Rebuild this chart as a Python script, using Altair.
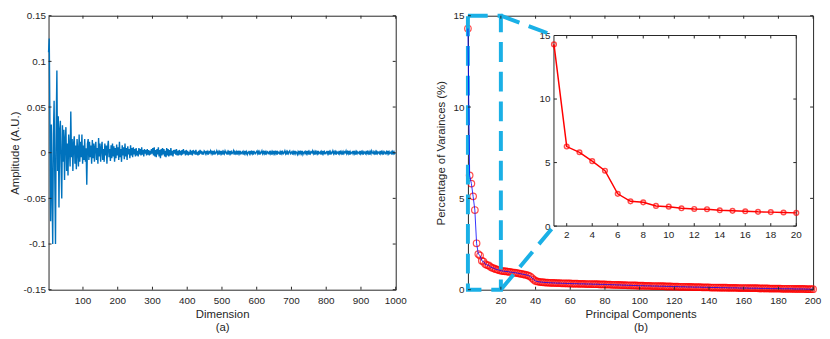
import altair as alt
import pandas as pd

# ---------------- data ----------------
# (a) signal: amplitude in thousandths of A.U., one reading every 2nd dimension
SIGNAL_EARLY = [110, 125, 30, -75, 31, -40, -100, 20, 57, -30, -100, 30, 90, -20, 40, -60, 25, 35, -15, -50,
                30, -10, 25, -30, 15, 28, -20, 10, -25, 20, 5, -15, 45, -5, 15, -20, 10, 18, -12, 8,
                -18, 15, 2, -15, 20, -10, 12, -5, 20, -12, 8, -8, 15, -10, 5, -35, 10, 15, -8, 12,
                -5, 8, -12, 14, -6, 10, -10, 6, 12, -8, 5, -12, 16, -4, 10, -10, 5, 12, -8, 4,
                -10, 10, -3, 8, -12, 6, 13, -5, 4, -9, 8, -6, 10, -4, 7, -10, 5, -6, 9, -3,
                6, -8, 12, -5, 4, -10, 8, -3, 6, -7, 10, -4, 5, -8, 7, -2, 4, -6, 8, -3,
                5, -5, 6, -2, 4, -4, 5, -3, 2, -4, 5, -2, 4, -3, 6, -2, 3, -4, 4, -1,
                3, -3, 4, -2, 3, -3, 2, -2, 4, -1]
SIGNAL_MID = [5, -3, 6, -4, 3, -5, 4, -2, 6, -4, 3, -6, 4, -3, 5, -2, 4, -4, 2, -5,
              5, -3, 4, -4, 3, -3, 5, -3, 2, -4, 3, -1, 3, -2, 4, -3, 2, -3, 3, -2,
              2, -3, 3, -2, 4, -1, 2, -3, 3, -2, 2, -3, 1, -2, 3, -2, 2, -3, 3, -1,
              2, -2, 3, -2, 1, -3, 2, -2, 3, -1, 2, -2, 1, -2, 2]
SIGNAL_LATE = [1, -1, 2, -1, 1, -2, 1, 0, 2, -1, 1, -1, 2, -2, 1, -1, 0, 2, -1, 1, -2, 1, -1, 2, -1,
               1, -2, 1, -1, 2, 0, -1, 1, -2, 1, -1, 2, -1, 1, -1, 0, 2, -2, 1, -1, 1, -2, 2, -1, 1,
               -1, 2, -1, 0, 1, -2, 1, -1, 2, -1, 1, -2, 0, 1, -1, 2, -1, 1, -1, 2, -2, 1, 0, -1, 1,
               2, -1, 1, -2, 1, -1, 0, 2, -1, 1, -1, 2, -2, 1, -1, 1, 0, -1, 2, -1, 1, -2, 1, -1, 2,
               -1, 1, -1, 2, -2, 1, 0, -1, 1, -2, 2, -1, 1, -1, 0, 2, -1, 1, -2, 1, -1, 1, 2, -1, 0,
               1, -2, 1, -1, 2, -1, 1, 0, -2, 1, -1, 2, -1, 1, -1, 2, -2, 0, 1, -1, 1, -1, 2, -1, 1,
               -2, 1, -1, 1, 0, 2, -1, 1, -2, 1, -1, 1, -1, 2, -1, 0, 1, -2, 1, -1, 2, -1, 1, -1, 0,
               1, -1, 2, -1, 1, -2, 1, -1, 0, 2, -1, 1, -1, 1, -2, 1, 0, -1, 2, -1, 1, -1, 1, -2, 1,
               -1, 1, 0, 2, -1, 1, -1, 2, -2, 1, -1, 0, 1, -1, 2, -1, 1, -2, 1, -1, 1, 0, -1, 2, -1,
               1, -1, 1, -2, 1, 0, -1, 2, -1, 1, -1, 1, -2, 1, -1, 2, 0, -1, 1, -1, 1, -2, 1, -1, 1,
               0, -1, 2, -1, 1, -1, 1, -2, 1, 0, -1, 1, -1, 2, -1, 1, -1, 0, 1, -2, 1, -1, 1, -1, 0]
DIM_TICKS = [100, 200, 300, 400, 500, 600, 700, 800, 900, 1000]
AMP_TICKS = [-0.15, -0.1, -0.05, 0, 0.05, 0.1, 0.15]

# (b) percentage of variance per principal component (1..200)
PC_VAR = [14.30, 6.26, 5.81, 5.11, 4.36, 2.54, 1.95, 1.87, 1.59, 1.53,
          1.40, 1.35, 1.33, 1.25, 1.20, 1.17, 1.12, 1.10, 1.07, 1.04,
          1.02, 1.01, 1.00, 0.99, 0.97, 0.96, 0.94, 0.93, 0.92, 0.90,
          0.88, 0.86, 0.84, 0.82, 0.80, 0.77, 0.72, 0.64, 0.55, 0.48,
          0.45, 0.43, 0.42, 0.41, 0.40, 0.39, 0.39, 0.38, 0.38, 0.37,
          0.37, 0.36, 0.36, 0.36, 0.35, 0.35, 0.35, 0.34, 0.34, 0.34,
          0.33, 0.33, 0.33, 0.33, 0.32, 0.32, 0.32, 0.32, 0.31, 0.31,
          0.31, 0.31, 0.30, 0.30, 0.30, 0.30, 0.29, 0.29, 0.29, 0.29,
          0.28, 0.28, 0.28, 0.27, 0.27, 0.27, 0.26, 0.26, 0.26, 0.25,
          0.25, 0.25, 0.24, 0.24, 0.24, 0.23, 0.23, 0.23, 0.22, 0.22,
          0.22, 0.22, 0.21, 0.21, 0.21, 0.21, 0.20, 0.20, 0.20, 0.20,
          0.19, 0.19, 0.19, 0.19, 0.18, 0.18, 0.18, 0.18, 0.17, 0.17,
          0.17, 0.17, 0.16, 0.16, 0.16, 0.16, 0.15, 0.15, 0.15, 0.15,
          0.14, 0.14, 0.14, 0.14, 0.14, 0.13, 0.13, 0.13, 0.13, 0.13,
          0.12, 0.12, 0.12, 0.12, 0.12, 0.11, 0.11, 0.11, 0.11, 0.11,
          0.10, 0.10, 0.10, 0.10, 0.10, 0.10, 0.09, 0.09, 0.09, 0.09,
          0.09, 0.09, 0.08, 0.08, 0.08, 0.08, 0.08, 0.08, 0.07, 0.07,
          0.07, 0.07, 0.07, 0.07, 0.06, 0.06, 0.06, 0.06, 0.06, 0.06,
          0.06, 0.05, 0.05, 0.05, 0.05, 0.05, 0.05, 0.05, 0.04, 0.04,
          0.04, 0.04, 0.04, 0.04, 0.04, 0.03, 0.03, 0.03, 0.03, 0.03]
PC_TICKS = [20, 40, 60, 80, 100, 120, 140, 160, 180, 200]
VAR_TICKS = [0, 5, 10, 15]
INSET_PC_TICKS = [2, 4, 6, 8, 10, 12, 14, 16, 18, 20]
ZOOM_PC = [1, 20]
ZOOM_VAR = [0, 15]

# ---------------- layout / style ----------------
W1, W2, H = 351, 349, 277
IX0, IX1 = 87, 332       # inset plot area, px inside right panel
IY1, IY0 = 20, 212.7     # top (15) and bottom (0)
TK = 3
AX = "#262626"
CYAN = "#1AB0E6"
FONT = "Liberation Sans"
LBL = 10

SIGNAL = SIGNAL_EARLY + SIGNAL_MID + SIGNAL_LATE
sig_df = pd.DataFrame({"dim": list(range(1, 2 * len(SIGNAL), 2)),
                       "amp": [v / 1000 for v in SIGNAL]})
pc_df = pd.DataFrame({"pc": list(range(1, len(PC_VAR) + 1)), "var": PC_VAR})
inset_df = pc_df[pc_df["pc"] <= ZOOM_PC[1]]
zoom_df = pd.DataFrame({"pc": [ZOOM_PC[0]], "pc2": [ZOOM_PC[1]],
                        "var": [ZOOM_VAR[0]], "var2": [ZOOM_VAR[1]]})
rule = dict(color=AX, strokeWidth=1)


def frame_ticks(xfield, xvals, yfield, yvals, x0, x1, y0, y1):
    """inward MATLAB-style ticks on four sides; y0 is bottom pixel, y1 top pixel"""
    xd = pd.DataFrame({xfield: xvals})
    yd = pd.DataFrame({yfield: yvals})
    xe = f"{xfield}:Q"
    ye = f"{yfield}:Q"
    return [
        alt.Chart(xd).mark_rule(**rule).encode(x=xe, y=alt.value(y0), y2=alt.value(y0 - TK)),
        alt.Chart(xd).mark_rule(**rule).encode(x=xe, y=alt.value(y1), y2=alt.value(y1 + TK)),
        alt.Chart(yd).mark_rule(**rule).encode(y=ye, x=alt.value(x0), x2=alt.value(x0 + TK)),
        alt.Chart(yd).mark_rule(**rule).encode(y=ye, x=alt.value(x1), x2=alt.value(x1 - TK)),
    ]


def x_labels(field, vals, ypix):
    d = pd.DataFrame({field: vals, "lbl": [str(v) for v in vals]})
    return alt.Chart(d).mark_text(baseline="top", align="center", font=FONT, fontSize=LBL,
                                  color=AX).encode(x=f"{field}:Q", y=alt.value(ypix), text="lbl:N")


# ---------------- (a) ----------------
xa = alt.X("dim:Q", scale=alt.Scale(domain=[1, 1000], nice=False, zero=False),
           axis=alt.Axis(values=DIM_TICKS, title=["Dimension", "(a)"], labels=False,
                         titlePadding=19))
ya = alt.Y("amp:Q", scale=alt.Scale(domain=[-0.15, 0.15], nice=False),
           axis=alt.Axis(values=AMP_TICKS, title="Amplitude (A.U.)", labelOverlap=False,
                         labelExpr="'' + datum.value", labelPadding=3, titlePadding=3))
sig_line = alt.Chart(sig_df).mark_line(color="#0072BD", strokeWidth=1.4).encode(x=xa, y=ya)
left = alt.layer(sig_line, *frame_ticks("dim", DIM_TICKS, "amp", AMP_TICKS, 0, W1, H, 0),
                 x_labels("dim", DIM_TICKS, H + 6)).properties(width=W1, height=H)

# ---------------- (b) main ----------------
xm = alt.X("pc:Q", scale=alt.Scale(domain=[1, 200], nice=False, zero=False),
           axis=alt.Axis(values=PC_TICKS, title=["Principal Components", "(b)"], labels=False,
                         titlePadding=19))
ym = alt.Y("var:Q", scale=alt.Scale(domain=[0, 15], nice=False),
           axis=alt.Axis(values=VAR_TICKS, title="Percentage of Varainces (%)", labelOverlap=False,
                         labelPadding=4, titlePadding=7))
zoom_rect = alt.Chart(zoom_df).mark_rect(fill="white", fillOpacity=0, stroke=CYAN, strokeWidth=4,
                                         strokeDash=[20, 10]).encode(
    x="pc:Q", x2="pc2:Q", y="var:Q", y2="var2:Q")
corner_top = pd.DataFrame({"pc": [ZOOM_PC[1]], "var": [ZOOM_VAR[1]]})
corner_bot = pd.DataFrame({"pc": [ZOOM_PC[1]], "var": [ZOOM_VAR[0]]})
conn_top = alt.Chart(corner_top).mark_rule(color=CYAN, strokeWidth=4, strokeDash=[20, 10]).encode(
    x="pc:Q", y="var:Q", x2=alt.value(IX0), y2=alt.value(IY1))
conn_bot = alt.Chart(corner_bot).mark_rule(color=CYAN, strokeWidth=4, strokeDash=[20, 10]).encode(
    x="pc:Q", y="var:Q", x2=alt.value(IX0), y2=alt.value(IY0))
main_pts = alt.Chart(pc_df).mark_point(shape="circle", filled=False, color="#FF0000", size=44,
                                       strokeWidth=1.2).encode(x=xm, y=ym)
main_line = alt.Chart(pc_df).mark_line(color="#0000FF", strokeWidth=0.8).encode(x="pc:Q", y="var:Q")
main_group = alt.layer(main_pts, zoom_rect, conn_top, conn_bot, main_line,
                       *frame_ticks("pc", PC_TICKS, "var", VAR_TICKS, 0, W2, H, 0),
                       x_labels("pc", PC_TICKS, H + 6))

# ---------------- (b) inset ----------------
xi = alt.X("pc:Q", scale=alt.Scale(domain=[1, 20], range=[IX0, IX1], nice=False, zero=False),
           axis=alt.Axis(orient="bottom", offset=-(H - IY0), values=INSET_PC_TICKS, title=None,
                         labels=False))
yi = alt.Y("var:Q", scale=alt.Scale(domain=[0, 15], range=[IY0, IY1], nice=False),
           axis=alt.Axis(orient="left", offset=-IX0, values=VAR_TICKS, title=None,
                         labelOverlap=False, labelPadding=4))
inset_box = alt.Chart(zoom_df).mark_rect(fill="white", stroke=AX, strokeWidth=1).encode(
    x="pc:Q", x2="pc2:Q", y="var:Q", y2="var2:Q")
inset_line = alt.Chart(inset_df).mark_line(color="#FF0000", strokeWidth=1.5).encode(x=xi, y=yi)
inset_pts = alt.Chart(inset_df).mark_point(shape="circle", filled=False, color="#FF0000", size=22,
                                           strokeWidth=1.5).encode(x="pc:Q", y="var:Q")
inset_group = alt.layer(inset_line, inset_box, inset_line, inset_pts,
                        *frame_ticks("pc", INSET_PC_TICKS, "var", VAR_TICKS, IX0, IX1, IY0, IY1),
                        x_labels("pc", INSET_PC_TICKS, IY0 + 4))

right = alt.layer(main_group, inset_group).resolve_scale(x="independent", y="independent"
                                                        ).properties(width=W2, height=H)

chart = alt.hconcat(left, right, spacing=27).properties(
    padding={"left": 0, "top": 0, "right": 0, "bottom": 0}
).configure_view(stroke=AX, strokeWidth=1).configure_axis(
    grid=False, domain=False, ticks=False,
    labelFont=FONT, labelFontSize=LBL, labelColor=AX,
    titleFont=FONT, titleFontSize=11.5, titleFontWeight="normal", titleColor=AX,
    titleLineHeight=13,
)

chart.save("out.html", embed_options={"renderer": "svg", "actions": False})
